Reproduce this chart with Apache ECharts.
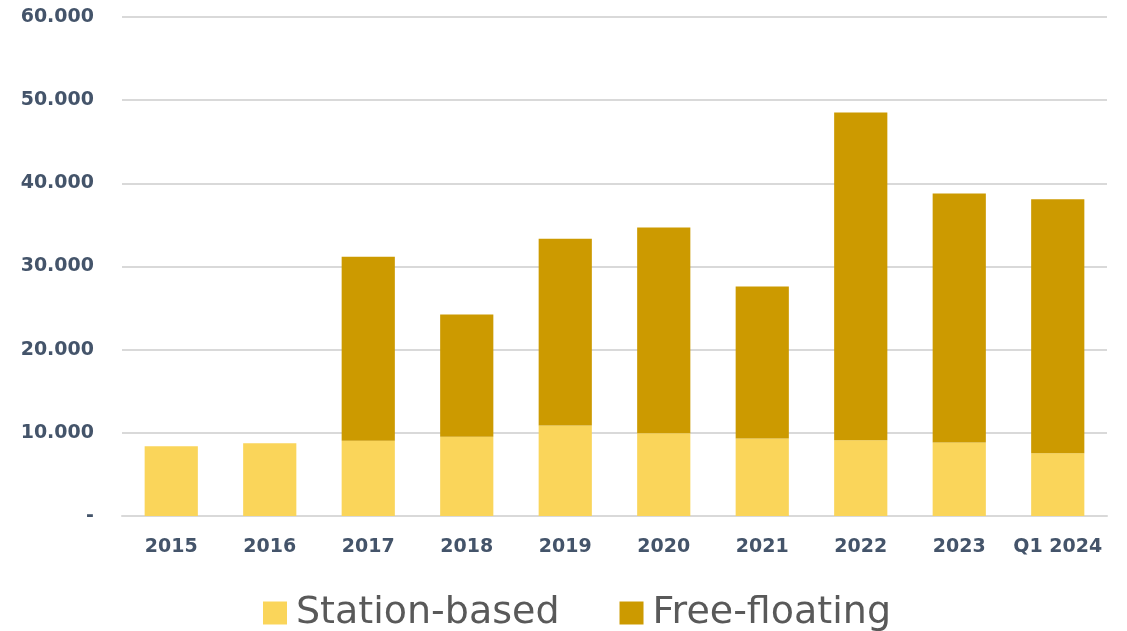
<!DOCTYPE html>
<html>
<head>
<meta charset="utf-8">
<script src="https://cdn.jsdelivr.net/npm/echarts@6/dist/echarts.min.js"></script>
<style>
	html, body { margin: 0; padding: 0; background: #fff; }
	#chart { width: 1127px; height: 631px; }
</style>
</head>
<body>
<div id="chart"></div>
<script>
const categories = ['2015', '2016', '2017', '2018', '2019', '2020', '2021', '2022', '2023', 'Q1 2024']
const stationBased = [8400, 8760, 9040, 9520, 10890, 9950, 9330, 9120, 8840, 7550]
const freeFloating = [0, 0, 22130, 14720, 22440, 24750, 18270, 39400, 29940, 30550]
const yTicks = [0, 10000, 20000, 30000, 40000, 50000, 60000]

const colors = ['#FAD55A', '#CC9A00']
const labelColor = '#44546A'
const gridColor = '#D9D9D9'

const chart = echarts.init(document.getElementById('chart'))

// 10000 -> "10.000", 0 -> "-"
const formatThousands = (v) => {
	if (v === 0) return '-'
	return String(v).replace(/\B(?=(\d{3})+(?!\d))/g, '.')
}

chart.setOption({
	animation: false,
	color: colors,
	grid: {
		left: 122,
		right: 20,
		top: 17,
		bottom: 115,
		containLabel: false,
	},
	legend: {
		top: 589,
		left: 258,
		itemWidth: 24,
		itemHeight: 23,
		itemGap: 60,
		icon: 'rect',
		textStyle: {
			fontFamily: 'DejaVu Sans',
			fontSize: 38,
			color: '#595959',
			padding: [0, 0, 0, 4],
		},
		data: ['Station-based', 'Free-floating'],
	},
	xAxis: {
		type: 'category',
		data: categories,
		axisLine: { lineStyle: { color: gridColor, width: 2 } },
		axisTick: { show: false },
		axisLabel: {
			interval: 0,
			margin: 22,
			color: labelColor,
			fontFamily: 'DejaVu Sans',
			fontWeight: 'bold',
			fontSize: 19,
		},
	},
	yAxis: {
		type: 'value',
		min: yTicks[0],
		max: yTicks[yTicks.length - 1],
		interval: 10000,
		axisLine: { show: false },
		axisTick: { show: false },
		splitLine: { lineStyle: { color: gridColor, width: 2 } },
		axisLabel: {
			margin: 28,
			color: labelColor,
			fontFamily: 'DejaVu Sans',
			fontWeight: 'bold',
			fontSize: 19,
			formatter: formatThousands,
		},
	},
	series: [
		{
			name: 'Station-based',
			type: 'bar',
			stack: 'total',
			barWidth: '54%',
			data: stationBased,
		},
		{
			name: 'Free-floating',
			type: 'bar',
			stack: 'total',
			barWidth: '54%',
			data: freeFloating.map((v) => (v === 0 ? null : v)),
		},
	],
})
</script>
</body>
</html>
